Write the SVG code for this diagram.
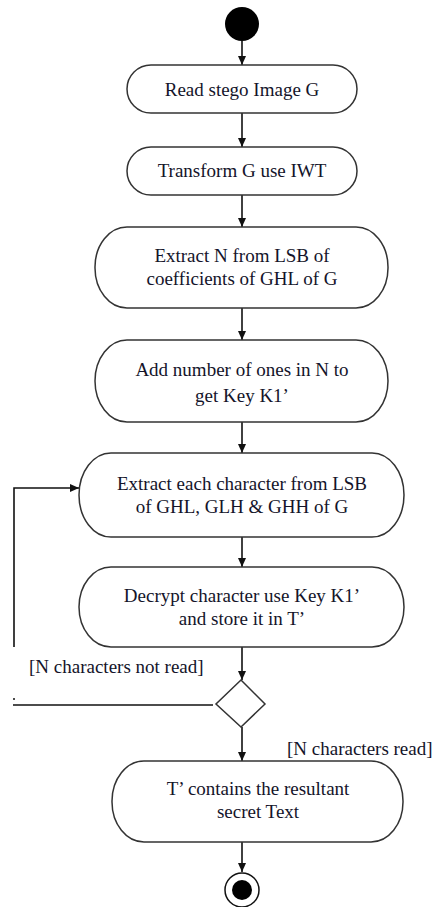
<svg xmlns="http://www.w3.org/2000/svg" width="439" height="907" viewBox="0 0 439 907">
<style>
.node{fill:#fff;stroke:#333;stroke-width:1.5}
.t{font-family:"Liberation Serif","Times New Roman",serif;font-size:19px;fill:#14142a;text-anchor:middle}
.lbl{font-family:"Liberation Serif","Times New Roman",serif;font-size:19px;fill:#14142a}
.c{fill:none;stroke:#111;stroke-width:1.6}
</style>
<defs>
<marker id="ah" markerWidth="10" markerHeight="10" refX="9" refY="5" orient="auto" markerUnits="userSpaceOnUse">
<path d="M0,1 L9,5 L0,9 Z" fill="#111"/>
</marker>
</defs>
<rect width="439" height="907" fill="#fff"/>
<g id="connectors">
<line class="c" x1="242" y1="41" x2="242" y2="65" marker-end="url(#ah)"/>
<line class="c" x1="242" y1="113" x2="242" y2="147" marker-end="url(#ah)"/>
<line class="c" x1="242" y1="195" x2="242" y2="227" marker-end="url(#ah)"/>
<line class="c" x1="242" y1="308" x2="242" y2="340" marker-end="url(#ah)"/>
<line class="c" x1="242" y1="422" x2="242" y2="453" marker-end="url(#ah)"/>
<line class="c" x1="242" y1="537" x2="242" y2="567" marker-end="url(#ah)"/>
<line class="c" x1="242" y1="647" x2="242" y2="680" marker-end="url(#ah)"/>
<line class="c" x1="242" y1="727" x2="242" y2="761" marker-end="url(#ah)"/>
<line class="c" x1="242" y1="842" x2="242" y2="872" marker-end="url(#ah)"/>
<line class="c" x1="213" y1="705" x2="13" y2="705"/>
<circle cx="14" cy="699" r="1" fill="#111"/>
<polyline class="c" points="14,647 14,488 79,488" marker-end="url(#ah)"/>
<text class="lbl" x="29" y="673">[N characters not read]</text>
<text class="lbl" x="287" y="755">[N characters read]</text>
</g>
<g id="start"><circle cx="242" cy="24" r="17" fill="#000"/></g>
<g id="n1"><rect class="node" x="127" y="65" width="230" height="48" rx="24" ry="24"/><text class="t" x="242" y="96">Read stego Image G</text></g>
<g id="n2"><rect class="node" x="127" y="147" width="230" height="48" rx="24" ry="24"/><text class="t" x="242" y="177">Transform G use IWT</text></g>
<g id="n3"><rect class="node" x="95" y="227" width="293" height="81" rx="32" ry="40"/><text class="t" x="242" y="262">Extract N from LSB of</text><text class="t" x="242" y="285">coefficients of GHL of G</text></g>
<g id="n4"><rect class="node" x="95" y="340" width="293" height="82" rx="32" ry="41"/><text class="t" x="242" y="376">Add number of ones in N to</text><text class="t" x="242" y="402">get Key K1’</text></g>
<g id="n5"><rect class="node" x="79" y="453" width="325" height="84" rx="32" ry="42"/><text class="t" x="242" y="490">Extract each character from LSB</text><text class="t" x="242" y="513">of GHL, GLH &amp; GHH of G</text></g>
<g id="n6"><rect class="node" x="79" y="567" width="325" height="80" rx="32" ry="40"/><text class="t" x="242" y="602">Decrypt character use Key K1’</text><text class="t" x="242" y="625">and store it in T’</text></g>
<g id="decision"><polygon class="node" points="241,680 265,704 241,727 216,704"/></g>
<g id="n7"><rect class="node" x="112" y="761" width="291" height="81" rx="32" ry="40"/><text class="t" x="258" y="795">T’ contains the resultant</text><text class="t" x="258" y="818">secret Text</text></g>
<g id="end"><circle cx="242" cy="890" r="17" fill="#fff" stroke="#111" stroke-width="1.5"/><circle cx="242" cy="890" r="10" fill="#000"/></g>
</svg>
